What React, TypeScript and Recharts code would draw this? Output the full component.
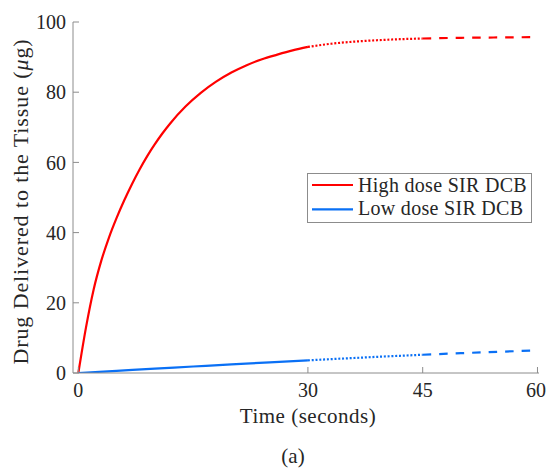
import { LineChart, Line, XAxis, YAxis, Legend } from "recharts"

const SERIF = '"Liberation Serif", "Times New Roman", Times, "DejaVu Serif", serif'
const AXIS_GREY = "#8c8c8c"
const INK = "#262626"

const xTicks = [0, 30, 45, 60]
const yTicks = [0, 20, 40, 60, 80, 100]

const seriesNames = ["High dose SIR DCB", "Low dose SIR DCB"]
const seriesColors = ["#ff0000", "#0a70f5"]

// (µg vs seconds)
const highTime = [0, 1, 2, 3, 4, 5, 6, 7, 8, 9, 10, 11, 12, 14, 16, 18, 20, 22, 24, 26, 28, 30, 33, 36, 39, 42, 45, 50, 55, 60]
const highDose = [0, 13, 23.8, 32, 38.6, 44.2, 49.2, 53.8, 58, 61.8, 65.2, 68.3, 71.1, 75.9, 79.8, 83, 85.6, 87.7, 89.4, 90.7, 91.9, 92.9, 93.8, 94.4, 94.8, 95.1, 95.3, 95.5, 95.6, 95.7]

const lowTime = [0, 5, 10, 15, 20, 25, 30, 33, 36, 39, 42, 45, 50, 55, 60]
const lowDose = [0, 0.62, 1.25, 1.85, 2.45, 3.03, 3.6, 3.95, 4.27, 4.6, 4.9, 5.2, 5.65, 6.05, 6.45]

// solid up to 30 s, dotted to 45 s, dashed to 60 s
const phaseBounds = [0, 30, 45, 60]
const phaseDash = [undefined, "2 1.8", "8.5 8"]

const series = [
  { time: highTime, dose: highDose },
  { time: lowTime, dose: lowDose },
]

function segment(time: number[], dose: number[], from: number, to: number) {
  return time
    .map((t, i) => ({ t, v: dose[i] }))
    .filter((p) => p.t >= from && p.t <= to)
}

function XTitle(props: any) {
  const { viewBox } = props
  const cx = viewBox.x + viewBox.width / 2
  return (
    <g style={{ fontFamily: SERIF }} fill={INK}>
      <text x={cx + 2} y={viewBox.y + 50} textAnchor="middle" fontSize={21} letterSpacing={0.5}>
        Time (seconds)
      </text>
      <text x={cx - 13} y={viewBox.y + 90} textAnchor="middle" fontSize={21}>
        (a)
      </text>
    </g>
  )
}

function YTitle(props: any) {
  const { viewBox } = props
  const cx = 27.5
  const cy = viewBox.y + viewBox.height / 2 + 4
  return (
    <text
      x={cx}
      y={cy}
      transform={`rotate(-90, ${cx}, ${cy})`}
      textAnchor="middle"
      style={{ fontFamily: SERIF }}
      fontSize={22}
      letterSpacing={0.9}
      fill={INK}
    >
      Drug Delivered to the Tissue (<tspan fontStyle="italic">μ</tspan>g)
    </text>
  )
}

function LegendBox() {
  return (
    <div
      style={{
        width: 225,
        height: 50,
        boxSizing: "border-box",
        border: `1px solid ${AXIS_GREY}`,
        background: "#fff",
      }}
    >
      <svg width={223} height={48} style={{ display: "block" }}>
        {seriesNames.map((name, i) => (
          <g key={name}>
            <line x1={4} x2={45} y1={11 + i * 24.3} y2={11 + i * 24.3} stroke={seriesColors[i]} strokeWidth={2.2} />
            <text x={50} y={17.7 + i * 23.5} style={{ fontFamily: SERIF }} fontSize={20} letterSpacing={0.3} fill={INK}>
              {name}
            </text>
          </g>
        ))}
      </svg>
    </div>
  )
}

export default function App() {
  const tickStyle = { fontFamily: SERIF, fontSize: 20, fill: INK, style: { fontFamily: SERIF } }
  return (
    <div style={{ position: "absolute", left: 0, top: 0, width: 546, height: 469, background: "#fff", fontFamily: SERIF }}>
      <LineChart width={546} height={469} margin={{ top: 22, right: 7, bottom: 0, left: 0 }} style={{ fontFamily: SERIF }}>
        <XAxis
          dataKey="t"
          type="number"
          domain={[-0.7, 60.2]}
          allowDataOverflow
          ticks={xTicks}
          height={96}
          tickSize={-6}
          tickMargin={16}
          stroke={AXIS_GREY}
          tick={tickStyle}
          label={<XTitle />}
        />
        <XAxis
          xAxisId="top"
          orientation="top"
          dataKey="t"
          type="number"
          domain={[-0.7, 60.2]}
          allowDataOverflow
          ticks={xTicks}
          height={0}
          tickSize={-6}
          tick={false}
          stroke={AXIS_GREY}
        />
        <YAxis
          type="number"
          domain={[0, 100]}
          allowDataOverflow
          ticks={yTicks}
          width={73}
          tickSize={-6}
          tickMargin={13}
          stroke={AXIS_GREY}
          tick={tickStyle}
          label={<YTitle />}
        />
        <YAxis
          yAxisId="right"
          orientation="right"
          type="number"
          domain={[0, 100]}
          allowDataOverflow
          ticks={yTicks}
          width={0}
          tickSize={-6}
          tick={false}
          stroke={AXIS_GREY}
        />
        <Legend
          layout="vertical"
          align="center"
          verticalAlign="middle"
          content={<LegendBox />}
          wrapperStyle={{ left: 307, top: 173, width: 225, height: 50 }}
        />
        {series.map((s, si) =>
          phaseDash.map((dash, pi) => (
            <Line
              key={`${si}-${pi}`}
              data={segment(s.time, s.dose, phaseBounds[pi], phaseBounds[pi + 1])}
              dataKey="v"
              name={seriesNames[si]}
              type="monotone"
              stroke={seriesColors[si]}
              strokeWidth={2.2}
              strokeDasharray={dash}
              dot={false}
              activeDot={false}
              legendType="none"
              isAnimationActive={false}
            />
          ))
        )}
      </LineChart>
    </div>
  )
}
